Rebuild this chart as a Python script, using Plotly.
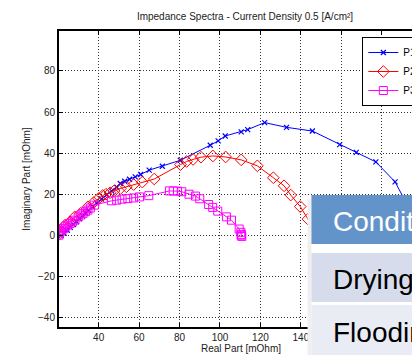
import plotly.graph_objects as go

# Nyquist data: real part vs. imaginary part, both in mOhm
blue_re = [21.5, 23.0, 24.5, 26.0, 27.5, 29.0, 30.5, 32.0, 33.5, 35.0, 37.0, 39.0, 41.5, 44.0,
           46.5, 49.0, 50.7, 52.9, 55.3, 58.1, 60.8, 65.0, 71.5, 80.4, 95.2, 99.1, 102.6, 110.5,
           113.7, 122.1, 132.9, 145.7, 159.2, 167.4, 177.1, 186.6, 191.5, 194.5, 195.5]
blue_im = [0.0, 1.2, 2.6, 4.0, 5.4, 6.8, 8.2, 9.6, 11.0, 12.3, 14.0, 15.8, 17.8, 19.8,
           21.6, 23.5, 25.3, 26.4, 27.4, 28.5, 29.7, 31.8, 33.7, 36.6, 43.9, 46.0, 48.4, 50.4,
           51.5, 54.9, 52.6, 50.8, 44.2, 40.4, 35.8, 26.1, 17.0, 7.0, 0.0]

red_re = [20.3, 21.0, 23.4, 25.8, 28.2, 31.1, 34.7, 37.5, 40.0, 42.0, 43.6, 45.7, 47.6, 50.8,
          53.7, 57.3, 61.6, 67.5, 80.5, 83.5, 86.7, 90.6, 96.5, 102.8, 110.5, 118.5, 126.4,
          131.7, 135.0, 139.7, 143.5, 146.5]
red_im = [0.5, 2.7, 5.1, 6.7, 9.1, 10.8, 14.0, 16.0, 18.0, 19.5, 20.1, 20.8, 21.7, 22.9,
          23.7, 24.8, 26.0, 27.5, 34.5, 36.0, 37.0, 38.1, 38.7, 38.2, 36.8, 33.9, 28.1,
          24.2, 19.7, 14.1, 8.0, 0.5]

mag_re = [20.3, 20.6, 21.0, 21.9, 22.7, 23.5, 24.7, 25.9, 27.1, 28.3, 29.9, 31.2, 32.3, 33.5,
          34.7, 35.9, 37.9, 46.3, 48.9, 51.6, 54.4, 57.3, 60.2, 64.8, 75.0, 76.9, 79.0, 81.1,
          84.7, 87.9, 90.0, 94.4, 96.4, 98.9, 103.2, 105.7, 109.5, 110.3, 110.6, 110.8, 110.5]
mag_im = [0.2, 1.4, 2.0, 2.7, 3.5, 4.3, 5.1, 5.9, 6.7, 7.5, 9.1, 10.0, 10.8, 11.6,
          12.4, 13.4, 14.8, 16.9, 17.2, 17.7, 18.0, 18.3, 18.8, 19.4, 21.7, 21.7, 21.6, 21.3,
          20.1, 19.2, 17.9, 15.1, 13.7, 11.9, 9.1, 7.5, 3.2, 1.6, 0.6, -0.4, 0.2]

series_names = ["P1", "P2", "P3"]
x_ticks = [40, 60, 80, 100, 120, 140, 160, 180, 200]
y_ticks = [-40, -20, 0, 20, 40, 60, 80]

table_rows = ["Condition", "Drying", "Flooding"]

FONT = "Liberation Sans, Arial, sans-serif"
W, H = 440, 355
ML, MR, MT, MB = 59, 9, 31, 28

fig = go.Figure()
fig.add_trace(go.Scatter(x=blue_re, y=blue_im, mode="lines+markers", name=series_names[0],
                         line=dict(color="#0000FF", width=1),
                         marker=dict(symbol="x-thin-open", size=5,
                                     line=dict(color="#0000FF", width=1.2))))
fig.add_trace(go.Scatter(x=red_re, y=red_im, mode="lines+markers", name=series_names[1],
                         line=dict(color="#FF0000", width=1),
                         marker=dict(symbol="diamond-open", size=9, color="#FF0000",
                                     line=dict(width=1))))
fig.add_trace(go.Scatter(x=mag_re, y=mag_im, mode="lines+markers", name=series_names[2],
                         line=dict(color="#FF00FF", width=1),
                         marker=dict(symbol="square-open", size=8, color="#FF00FF",
                                     line=dict(width=1))))

axis_common = dict(showline=True, linecolor="black", linewidth=2, mirror="ticks",
                   ticks="inside", ticklen=4, tickcolor="black",
                   showgrid=True, gridcolor="#333333", griddash="1px,2px", gridwidth=1,
                   zeroline=False, tickfont=dict(family=FONT, size=10, color="#222"))

fig.update_xaxes(range=[20.4, 200.4], tickvals=x_ticks, **axis_common)
fig.update_yaxes(range=[-44.4, 99.4], tickvals=y_ticks, **axis_common)

pw = W - ML - MR
ph = H - MT - MB

def px_x(p):
    return (p - ML) / pw

def px_y(p):
    return (H - MB - p) / ph

# Slide table laid over the lower-right corner of the chart
shapes = [
    dict(type="rect", xref="paper", yref="paper", x0=px_x(313), x1=px_x(317.5),
         y0=px_y(355), y1=px_y(199), fillcolor="#EFEFEF", line=dict(width=0), layer="above"),
    dict(type="rect", xref="paper", yref="paper", x0=px_x(317), x1=px_x(W),
         y0=px_y(355), y1=px_y(195), fillcolor="#FFFFFF", line=dict(width=0), layer="above"),
]
row_spans = [(195, 244), (253, 302), (305, 356)]
row_fills = ["#6394C9", "#D6DCEB", "#E9ECF5"]
row_text = ["#FFFFFF", "#000000", "#000000"]
annotations = []
for label, (top, bot), fill, tc in zip(table_rows, row_spans, row_fills, row_text):
    shapes.append(dict(type="rect", xref="paper", yref="paper", x0=px_x(317), x1=px_x(W),
                       y0=px_y(bot), y1=px_y(top), fillcolor=fill, line=dict(width=0),
                       layer="above"))
    annotations.append(dict(text=label, xref="paper", yref="paper", x=px_x(337),
                            y=px_y((top + bot) / 2 + 2), xanchor="left", yanchor="middle",
                            showarrow=False,
                            font=dict(family=FONT, size=28, color=tc)))

annotations.append(dict(text="Real Part [mOhm]", xref="paper", yref="paper",
                        x=px_x(245), y=px_y(348), xanchor="center", yanchor="middle",
                        showarrow=False, font=dict(family=FONT, size=10, color="#222")))
annotations.append(dict(text="Imaginary Part [mOhm]", xref="paper", yref="paper",
                        x=px_x(25), y=px_y(179), xanchor="center", yanchor="middle",
                        textangle=-90, showarrow=False,
                        font=dict(family=FONT, size=10, color="#222")))

fig.update_layout(
    width=W, height=H,
    margin=dict(l=ML, r=MR, t=MT, b=MB),
    paper_bgcolor="white", plot_bgcolor="white",
    title=dict(text="Impedance Spectra - Current Density 0.5 [A/cm²]",
               x=245 / W, xref="container", xanchor="center",
               y=1 - 16 / H, yref="container", yanchor="middle",
               font=dict(family=FONT, size=10, color="#222")),
    legend=dict(x=px_x(369), y=px_y(37), xanchor="left", yanchor="top",
                bgcolor="white", bordercolor="black", borderwidth=1,
                font=dict(family=FONT, size=10, color="black"),
                tracegroupgap=0),
    shapes=shapes,
    annotations=annotations,
    showlegend=True,
)

clip = ("var gd=document.getElementById('{plot_id}');"
        "document.body.style.margin='0';document.body.style.overflow='hidden';"
        "document.documentElement.style.overflow='hidden';"
        "gd.parentElement.style.width='412px';gd.parentElement.style.overflow='hidden';")
fig.write_html("out.html", post_script=clip)
